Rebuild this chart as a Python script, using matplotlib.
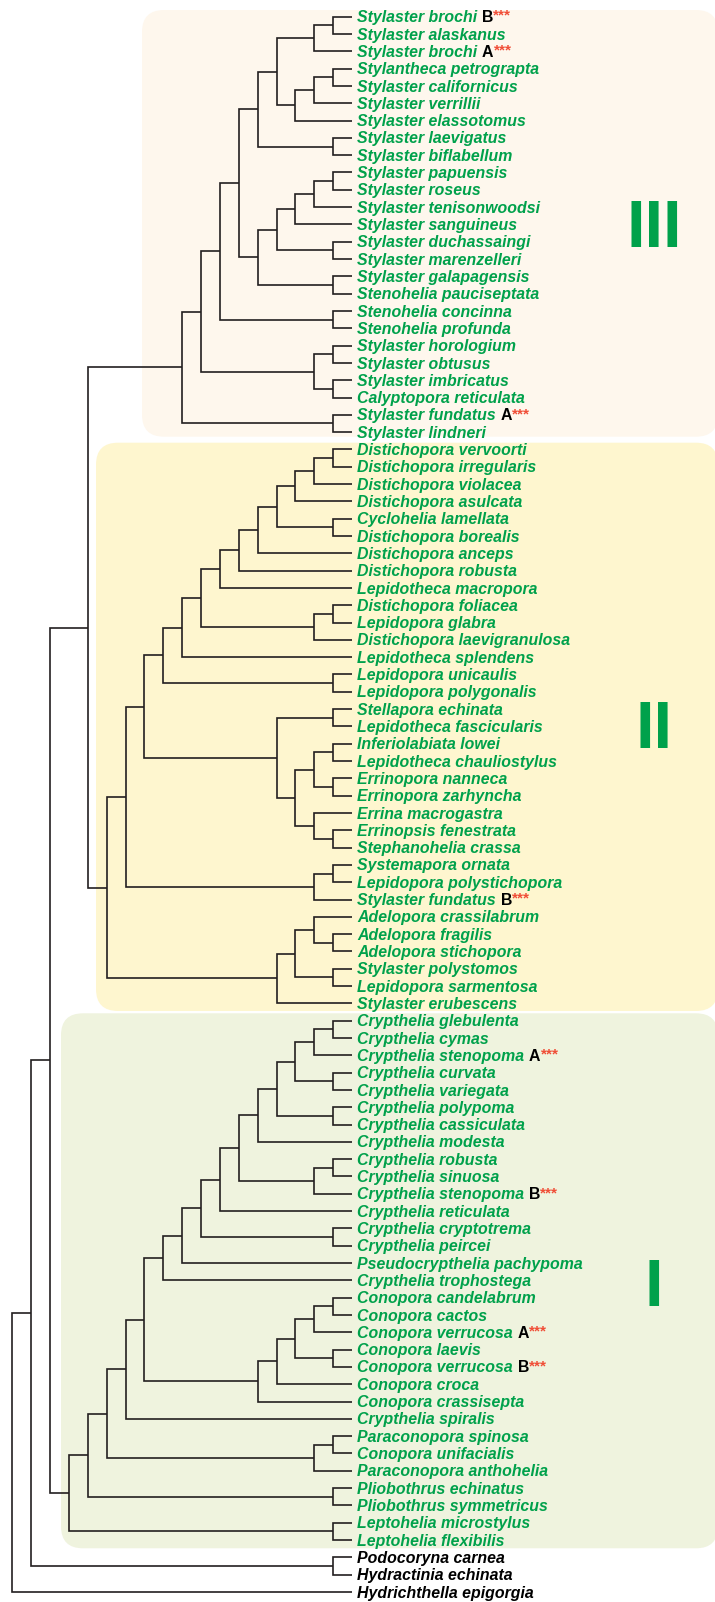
import matplotlib.pyplot as plt
from matplotlib.patches import FancyBboxPatch

# Taxa in tree order (top to bottom)
clade_III_taxa = [
    "Stylaster brochi", "Stylaster alaskanus", "Stylaster brochi",
    "Stylantheca petrograpta", "Stylaster californicus", "Stylaster verrillii",
    "Stylaster elassotomus", "Stylaster laevigatus", "Stylaster biflabellum",
    "Stylaster papuensis", "Stylaster roseus", "Stylaster tenisonwoodsi",
    "Stylaster sanguineus", "Stylaster duchassaingi", "Stylaster marenzelleri",
    "Stylaster galapagensis", "Stenohelia pauciseptata", "Stenohelia concinna",
    "Stenohelia profunda", "Stylaster horologium", "Stylaster obtusus",
    "Stylaster imbricatus", "Calyptopora reticulata", "Stylaster fundatus",
    "Stylaster lindneri",
]
clade_II_taxa = [
    "Distichopora vervoorti", "Distichopora irregularis", "Distichopora violacea",
    "Distichopora asulcata", "Cyclohelia lamellata", "Distichopora borealis",
    "Distichopora anceps", "Distichopora robusta", "Lepidotheca macropora",
    "Distichopora foliacea", "Lepidopora glabra", "Distichopora laevigranulosa",
    "Lepidotheca splendens", "Lepidopora unicaulis", "Lepidopora polygonalis",
    "Stellapora echinata", "Lepidotheca fascicularis", "Inferiolabiata lowei",
    "Lepidotheca chauliostylus", "Errinopora nanneca", "Errinopora zarhyncha",
    "Errina macrogastra", "Errinopsis fenestrata", "Stephanohelia crassa",
    "Systemapora ornata", "Lepidopora polystichopora", "Stylaster fundatus",
    "Adelopora crassilabrum", "Adelopora fragilis", "Adelopora stichopora",
    "Stylaster polystomos", "Lepidopora sarmentosa", "Stylaster erubescens",
]
clade_I_taxa = [
    "Crypthelia glebulenta", "Crypthelia cymas", "Crypthelia stenopoma",
    "Crypthelia curvata", "Crypthelia variegata", "Crypthelia polypoma",
    "Crypthelia cassiculata", "Crypthelia modesta", "Crypthelia robusta",
    "Crypthelia sinuosa", "Crypthelia stenopoma", "Crypthelia reticulata",
    "Crypthelia cryptotrema", "Crypthelia peircei", "Pseudocrypthelia pachypoma",
    "Crypthelia trophostega", "Conopora candelabrum", "Conopora cactos",
    "Conopora verrucosa", "Conopora laevis", "Conopora verrucosa",
    "Conopora croca", "Conopora crassisepta", "Crypthelia spiralis",
    "Paraconopora spinosa", "Conopora unifacialis", "Paraconopora anthohelia",
    "Pliobothrus echinatus", "Pliobothrus symmetricus", "Leptohelia microstylus",
    "Leptohelia flexibilis",
]
outgroup_taxa = ["Podocoryna carnea", "Hydractinia echinata", "Hydrichthella epigorgia"]

taxa = clade_III_taxa + clade_II_taxa + clade_I_taxa + outgroup_taxa

# duplicated species get an A/B tag (leaf index -> tag)
tags = {0: "B", 2: "A", 23: "A", 51: "B", 60: "A", 68: "B", 76: "A", 78: "B"}

# Topology as nested tuples of leaf indices, built from sub-clades
s3_a = ((((0, 1), 2), (((3, 4), 5), 6)), (7, 8))
s3_b = (((((9, 10), 11), 12), (13, 14)), (15, 16))
clade_III = ((((s3_a, s3_b), (17, 18)), ((19, 20), (21, 22))), (23, 24))

s2_c = ((((((((((25, 26), 27), 28), (29, 30)), 31), 32), 33), ((34, 35), 36)), 37), (38, 39))
s2_d = ((40, 41), (((42, 43), (44, 45)), (46, (47, 48))))
s2_e = (((52, (53, 54)), (55, 56)), 57)
clade_II = (((s2_c, s2_d), ((49, 50), 51)), s2_e)

s1_f = ((((((58, 59), 60), (61, 62)), (63, 64)), 65), ((66, 67), 68))
s1_g = (((((74, 75), 76), (77, 78)), 79), 80)
clade_I = (((((((((s1_f, 69), (70, 71)), 72), 73), s1_g), 81), ((82, 83), 84)), (85, 86)), (87, 88))

tree = ((((clade_III, clade_II), clade_I), (89, 90)), 91)

# Shaded clade boxes and their roman numeral labels
box_names = ["III", "II", "I"]
box_colors = ["#FEF7ED", "#FEF6CF", "#EFF3DE"]

GREEN = "#00A14B"
RED = "#F04E37"
LINE = "#231F20"

LEAF_X = 352
STEP = 18.87
Y0, DY = 16.7, 17.31


def leaf_y(i):
    return Y0 + DY * i


def draw_node(ax, node):
    """Draw a clade recursively; returns (x, y, height)."""
    if isinstance(node, int):
        return LEAF_X, leaf_y(node), 0
    kids = [draw_node(ax, c) for c in node]
    h = 1 + max(k[2] for k in kids)
    x = LEAF_X - STEP * h
    y = (kids[0][1] + kids[-1][1]) / 2
    for kx, ky, _ in kids:
        ax.plot([x, x, kx], [y, ky, ky], color=LINE, lw=1.2,
                solid_joinstyle='miter', solid_capstyle='butt', zorder=2)
    return x, y, h


def main():
    fig = plt.figure(figsize=(7.15, 16.02), dpi=100)
    ax = fig.add_axes([0, 0, 1, 1])
    ax.set_xlim(0, 715)
    ax.set_ylim(1602, 0)
    ax.axis('off')

    # clade backgrounds
    lefts = [142, 96, 61]
    tops = [10, 442.7, 1013.3]
    bottoms = [436.7, 1011, 1548.3]
    for col, left, top, bot in zip(box_colors, lefts, tops, bottoms):
        ax.add_patch(FancyBboxPatch((left, top), 718 - left, bot - top,
                                    boxstyle="round,pad=0,rounding_size=22",
                                    fc=col, ec='none', zorder=0))

    # roman numerals
    numeral_pos = [(654, 247), (654, 748), (654, 1306)]
    for name, (nx, ny) in zip(box_names, numeral_pos):
        ax.text(nx, ny, name, color=GREEN, fontsize=48, fontweight='bold',
                family='Liberation Sans', ha='center', va='baseline', zorder=3)

    draw_node(ax, tree)

    # tip labels
    n_ingroup = len(taxa) - len(outgroup_taxa)
    for i, name in enumerate(taxa):
        col = GREEN if i < n_ingroup else 'black'
        t = ax.text(LEAF_X + 5, leaf_y(i) + 5.6, name, color=col, fontsize=11.4,
                    fontweight='bold', fontstyle='italic', family='Liberation Sans',
                    ha='left', va='baseline', zorder=3)
        if i in tags:
            b = ax.annotate(tags[i], xy=(1, 0), xycoords=t, xytext=(3.5, 0),
                            textcoords='offset points', fontsize=11.4,
                            fontweight='bold', family='Liberation Sans',
                            color='black', ha='left', va='bottom', zorder=3)
            ax.annotate("***", xy=(1, 1), xycoords=b, xytext=(0, 1),
                        textcoords='offset points', fontsize=11,
                        fontweight='bold', family='Liberation Sans',
                        color=RED, ha='left', va='top', zorder=3)

    fig.savefig("out.png", dpi=100)


if __name__ == "__main__":
    main()
